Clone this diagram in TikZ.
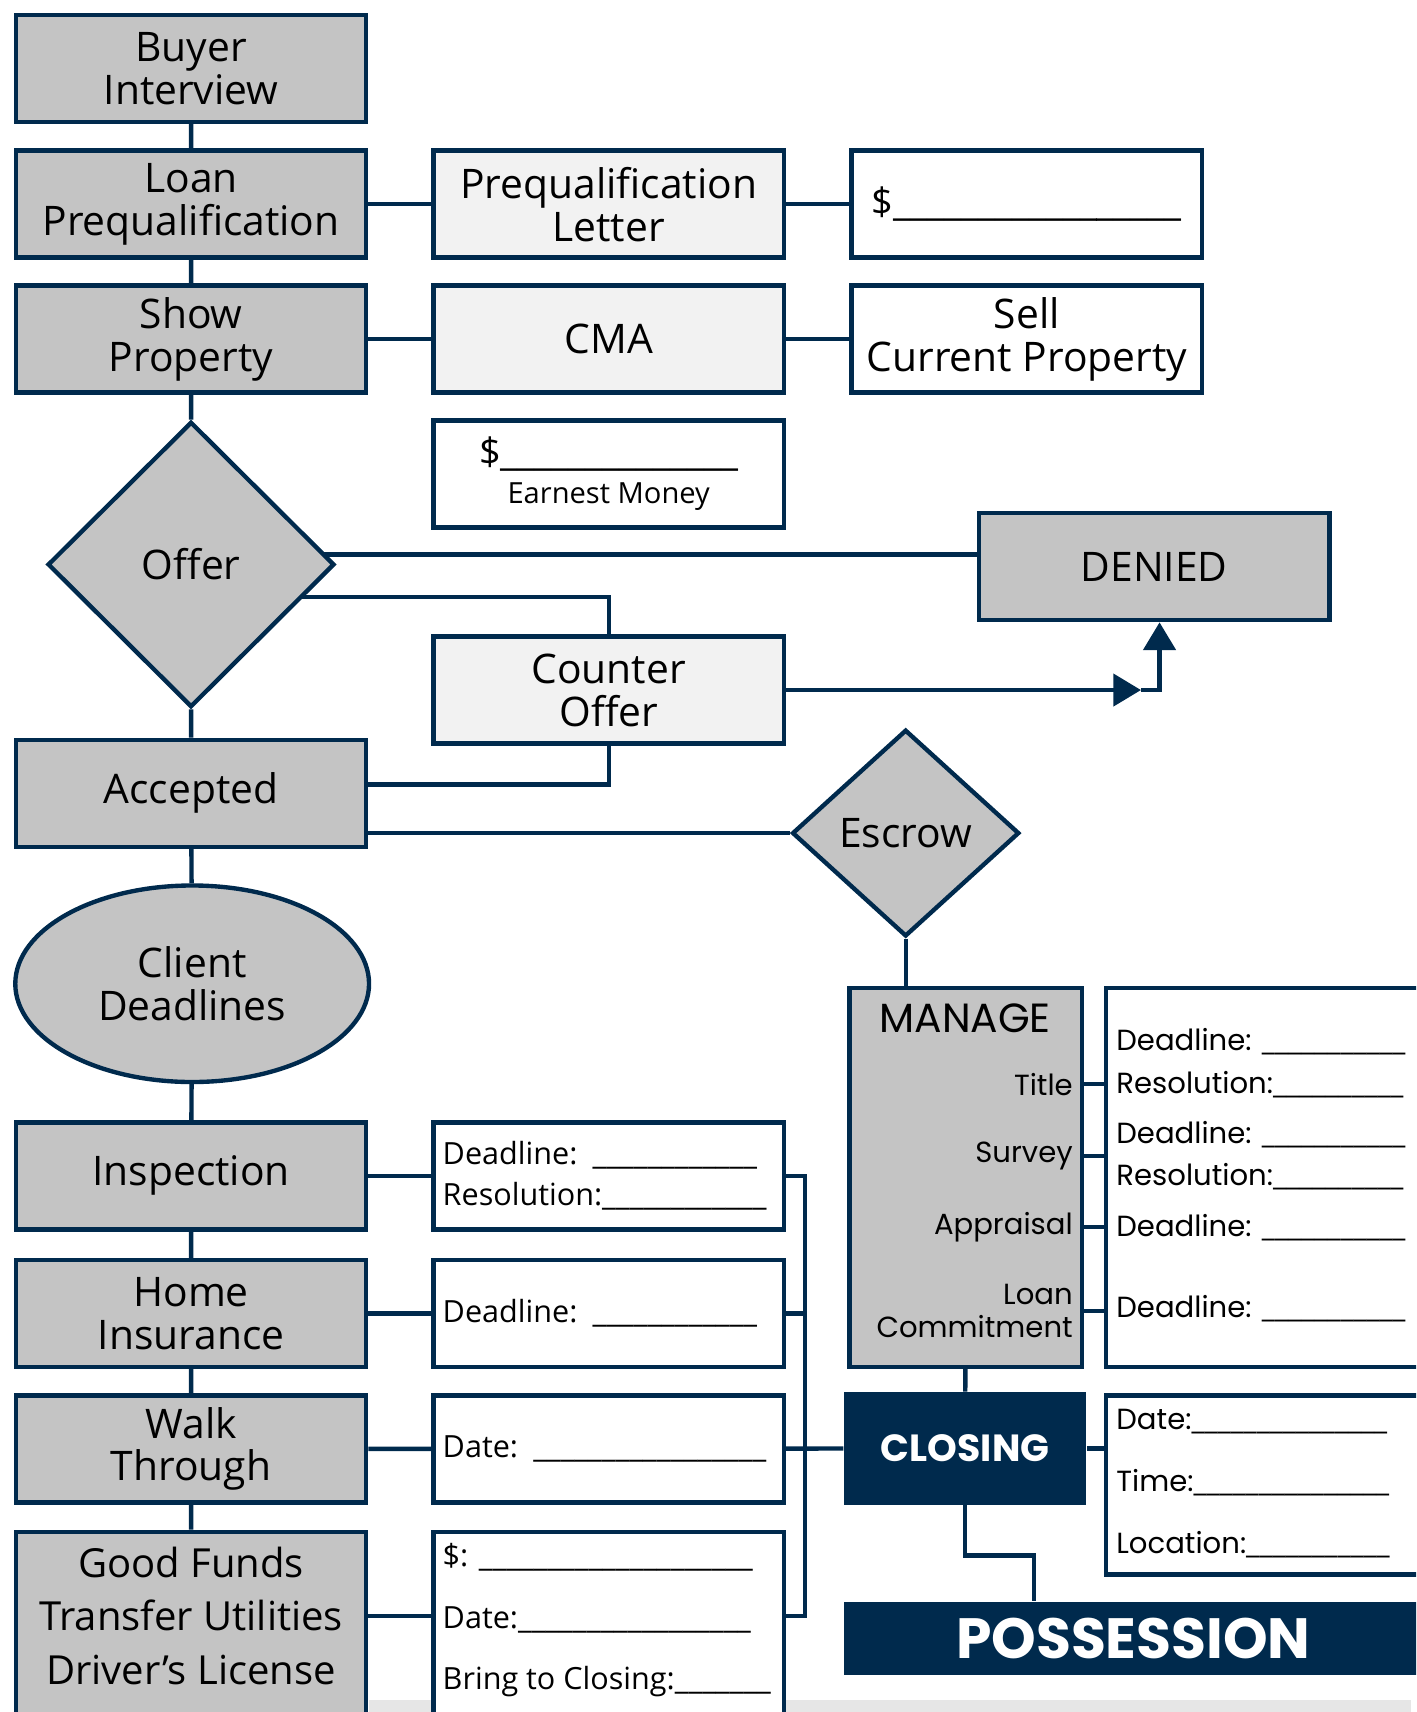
\documentclass[tikz,border=0pt]{standalone}
\usepackage{fontspec}
\setmainfont{Open Sans}
\newfontfamily\geofont{Poppins}
\usetikzlibrary{shapes.geometric,arrows.meta,backgrounds,calc}

\definecolor{navy}{RGB}{0,42,77}
\definecolor{stepgray}{RGB}{196,196,196}
\definecolor{notegray}{RGB}{242,242,242}
\definecolor{bargray}{RGB}{230,230,230}
\newcommand{\blank}[1]{{\normalfont\foreach\n in {1,...,#1}{\_}}}

\tikzset{every picture/.style={line width=0.75pt},
  stepbox/.style={draw=navy, line width=3pt, fill=stepgray, minimum width=240.75pt, minimum height=73.5pt, inner sep=0pt, align=center, font=\fontsize{28}{29.5}\selectfont},
  notebox/.style={stepbox, fill=notegray},
  blankbox/.style={stepbox, fill=white},
  infobox/.style={stepbox, fill=white, align=left, text width=228pt, inner xsep=6.4pt, font=\fontsize{21}{28.5}\selectfont},
  decision/.style={diamond, draw=navy, line width=3pt, fill=stepgray, inner sep=0pt, font=\fontsize{28}{29.5}\selectfont},
  darkbox/.style={fill=navy, text=white, inner sep=0pt, font=\geofont\bfseries},
  geotext/.style={inner sep=0pt, font=\geofont\fontsize{20}{22.5}\selectfont},
  notetext/.style={inner sep=0pt, align=left, font=\fontsize{21}{42.4}\selectfont},
  link/.style={draw=navy, line width=3pt},
  tip/.style={-{Triangle[length=19pt,width=22pt]}}
}

\begin{document}
\begin{tikzpicture}[x=0.75pt,y=0.75pt,yscale=-1,xscale=1]
\clip (0,0) rectangle (1297,1568);
%Shape: strip at the foot of the page
\fill[bargray] (338,1557) rectangle (1292,1568);

%Left column
\node[stepbox] (buyer) at (175,62.5) {Buyer\\Interview};
\node[stepbox] (loan) at (175,187) {Loan\\Prequalification};
\node[stepbox] (show) at (175,310.5) {Show\\Property};
\node[decision, minimum width=197pt, minimum height=196pt] (offer) at (175,517) {Offer};
\node[stepbox] (accepted) at (175,726.5) {Accepted};
\node[ellipse, draw=navy, line width=3pt, fill=stepgray, minimum width=243pt, minimum height=135pt, align=center, font=\fontsize{28}{29.5}\selectfont] (client) at (176,901) {Client\\Deadlines};
\node[stepbox] (inspection) at (175,1077) {Inspection};
\node[stepbox] (home) at (175,1203) {Home\\Insurance};
\node[stepbox] (walk) at (175,1327) {Walk\\Through};
\node[stepbox, anchor=north, minimum height=157.5pt] (funds) at (175,1401) {};
% Text Node
\node[align=center, inner sep=0pt, font=\fontsize{27.5}{37}\selectfont] (fundstxt) at (175,1480) {Good Funds\\Transfer Utilities\\Driver’s License};

%Middle column
\node[notebox] (prequal) at (557.5,187) {Prequalification\\Letter};
\node[notebox] (cma) at (557.5,310.5) {CMA};
\node[blankbox, font=\fontsize{26}{29}\selectfont] (earnest) at (557.5,434) {\$\blank{14}\\[-3pt]{\fontsize{20}{22}\selectfont Earnest Money}};
\node[notebox] (counter) at (557.5,632) {Counter\\Offer};
\node[infobox] (inspinfo) at (557.5,1077) {Deadline: \blank{12}\\Resolution:\blank{12}};
\node[infobox] (homeinfo) at (557.5,1203) {Deadline: \blank{12}};
\node[infobox] (walkinfo) at (557.5,1327) {Date: \blank{17}};
\node[infobox, anchor=north, minimum height=157.5pt] (fundsinfo) at (557.5,1401) {};
% Text Node
\node[notetext, anchor=west] (fundsnote) at (405,1484) {\$: \blank{20}\\Date:\blank{17}\\Bring to Closing:\blank{7}};

%Right column
\node[blankbox, font=\fontsize{26}{29}\selectfont] (prequalamt) at (940.5,187) {\$\blank{17}};
\node[blankbox] (sell) at (940.5,310.5) {Sell\\Current Property};
\node[stepbox] (denied) at (1057,519) {DENIED};
\node[decision, minimum width=156pt, minimum height=142pt] (escrow) at (829.5,763) {Escrow};
\node[draw=navy, line width=3pt, fill=stepgray, minimum width=159.75pt, minimum height=260.25pt] (manage) at (884.5,1078.5) {};
\node[draw=navy, line width=3pt, fill=white, anchor=north west, minimum width=240pt, minimum height=260.25pt] (manageinfo) at (1011,903) {};
\node[darkbox, minimum width=166.5pt, minimum height=77.25pt, font=\geofont\bfseries\fontsize{26}{29}\selectfont] (closing) at (884,1326.5) {CLOSING};
\node[draw=navy, line width=3pt, fill=white, anchor=north west, minimum width=240pt, minimum height=123pt] (closinginfo) at (1011,1276) {};
\node[darkbox, minimum width=397.5pt, minimum height=50.25pt, font=\geofont\bfseries\fontsize{39}{42}\selectfont] (possession) at (1038,1500.5) {POSSESSION};

% Text Node
\node[geotext, font=\geofont\fontsize{28}{30}\selectfont] (managehead) at (884,933) {MANAGE};
\node[geotext, anchor=east] (title) at (983,993) {Title};
\node[geotext, anchor=east] (survey) at (983,1059) {Survey};
\node[geotext, anchor=east] (appraisal) at (983,1124) {Appraisal};
\node[geotext, anchor=east, align=right] (loancommit) at (983,1201) {Loan\\Commitment};
\foreach \y/\txt in {954/{Deadline: \blank{11}}, 993/{Resolution:\blank{10}}, 1039/{Deadline: \blank{11}}, 1078/{Resolution:\blank{10}}, 1124/{Deadline: \blank{11}}, 1199/{Deadline: \blank{11}}}
  \node[geotext, anchor=west] (due\y) at (1022,\y) {\txt};
\node[geotext, anchor=west] (closedate) at (1022,1302) {Date:\blank{15}};
\node[geotext, anchor=west] (closetime) at (1022,1358) {Time:\blank{15}};
\node[geotext, anchor=west] (closeplace) at (1022,1415) {Location:\blank{11}};

%Connectors
\coordinate (bend) at ($(denied.south |- counter)+(5,0)$);
\coordinate (bendin) at ($(bend)+(-17,0)$);
\coordinate (bus) at ($(inspinfo.east)+(17,0)$);
\coordinate (possin) at ($(possession.north)+(-91,0)$);
\begin{scope}[on background layer]
\draw[link] (buyer) -- (loan) -- (show) -- (offer) -- (accepted) -- (client) -- (inspection) -- (home) -- (walk) -- (funds);
\draw[link] (loan) -- (prequal) -- (prequalamt);
\draw[link] (show) -- (cma) -- (sell);
\draw[link] ($(denied)+(0,-11)$) -- ($(denied -| offer)+(0,-11)$);
\draw[link] ($(offer)+(0,30)$) -| (counter);
\draw[link] (counter) |- ($(accepted)+(0,-8)$);
\draw[link, tip] (counter) -- (bendin);
\draw[link, tip] (bendin) -- (bend) -- (denied.south -| bend);
\draw[link] (escrow -| accepted) -- (escrow);
\draw[link] (escrow) -- (escrow |- manage);
\foreach \lab in {title,survey,appraisal,loancommit}
  \draw[link] (\lab -| manage) -- (\lab -| manageinfo);
\draw[link] (manage) -- (closing);
\draw[link] (closing) -- (closing -| closinginfo);
\draw[link] (closing) |- ($(possin)+(0,-42)$) -- (possin);
\draw[link] (inspection) -- (inspinfo) -- (bus) -- (bus |- fundstxt) -- (fundstxt);
\draw[link] (home) -- (homeinfo) -- (homeinfo -| bus);
\draw[link] (walk) -- (walkinfo) -- (closing);
\end{scope}
\end{tikzpicture}
\end{document}
